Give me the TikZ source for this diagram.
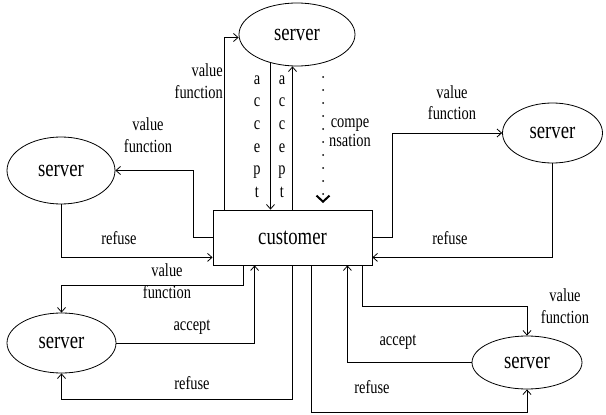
\documentclass[tikz,border=0pt]{standalone}
\usepackage{fontspec}
\setmainfont[FakeStretch=0.78]{Liberation Serif}
\usetikzlibrary{arrows.meta,shapes.geometric}
\tikzset{
  srv/.style={draw, ellipse, inner sep=0pt, line width=0.8pt, font=\fontsize{24}{26}\selectfont},
  custbox/.style={draw, rectangle, inner sep=0pt, minimum width=159pt, minimum height=55pt, line width=0.8pt, font=\fontsize{24}{26}\selectfont},
  lbl/.style={inner sep=0pt, align=center, font=\fontsize{18.5}{21.5}\selectfont},
  vlbl/.style={inner sep=0pt, align=center, font=\fontsize{18.5}{22.6}\selectfont},
  conn/.style={line width=0.8pt, -{Straight Barb[length=4.5pt,width=8pt]}},
  chev/.style={line width=2pt, line cap=round, dash pattern=on 0pt off 13pt, -{Straight Barb[length=6pt,width=13pt,line width=2pt]}}
}
\begin{document}
\begin{tikzpicture}[x=1pt,y=-1pt]
\useasboundingbox (0,0) rectangle (606,415);
% nodes
\node[custbox] (cust) at (292.5,237.5) {customer};
\node[srv, minimum width=116pt, minimum height=63pt] (ts) at (297,34.5) {server};
\node[srv, minimum width=108pt, minimum height=67pt] (ls) at (61,170.5) {server};
\node[srv, minimum width=109pt, minimum height=60pt] (bl) at (61.5,343) {server};
\node[srv, minimum width=100pt, minimum height=60pt] (rs) at (552.5,133) {server};
\node[srv, minimum width=110pt, minimum height=53pt] (br) at (527,362.5) {server};
\coordinate (cs) at (323,77);
\coordinate (ce) at (323,203);
% top server connectors
\draw[conn] ([xshift=12pt]cust.north west) |- ([yshift=-3pt]ts.west);
\draw[conn] (ts.227) -- (ts.227 |- cust.north);
\draw[conn] (cust.north) -- (cust.north |- ts.south);
\draw[chev] (cs) -- (ce);
% left server
\draw[conn] (cust.west) -- ++(-19,0) |- (ls.east);
\draw[conn] (ls.south) |- ([yshift=8pt]cust.south west);
% bottom-left server
\draw[conn] ([xshift=31pt]cust.south west) -- ++(0,20) -| (bl.north);
\draw[conn] (bl.east) -| ([xshift=42pt]cust.south west);
\draw[conn] ([xshift=80pt]cust.south west) -- ++(0,134) -| (bl.south);
% right server
\draw[conn] (cust.east) -- ++(20,0) |- (rs.west);
\draw[conn] (rs.south) |- ([yshift=8pt]cust.south east);
% bottom-right server
\draw[conn] ([xshift=-10pt]cust.south east) -- ++(0,41) -| (br.north);
\draw[conn] (br.west) -| ([xshift=-25pt]cust.south east);
\draw[conn] ([xshift=99pt]cust.south west) -- ++(0,147) -| (br.south);
% labels
\node[lbl, align=right, anchor=east] (l1) at (223,81) {value\\function};
\node[vlbl] (l2) at (257,136.5) {a\\c\\c\\e\\p\\t};
\node[vlbl] (l3) at (282,136.5) {a\\c\\c\\e\\p\\t};
\node[inner sep=0pt, align=center, font=\fontsize{18.5}{19}\selectfont] (l4) at (350,132.5) {compe\\nsation};
\node[lbl] (l5) at (148,135) {value\\function};
\node[lbl] (l6) at (119,238) {refuse};
\node[lbl] (l7) at (167,281) {value\\function};
\node[lbl] (l8) at (192,327) {accept};
\node[lbl] (l9) at (192,383) {refuse};
\node[lbl] (l10) at (452,102.5) {value\\function};
\node[lbl] (l11) at (450,238) {refuse};
\node[lbl] (l12) at (565,306) {value\\function};
\node[lbl] (l13) at (398,342) {accept};
\node[lbl] (l14) at (372,387) {refuse};
\end{tikzpicture}
\end{document}
